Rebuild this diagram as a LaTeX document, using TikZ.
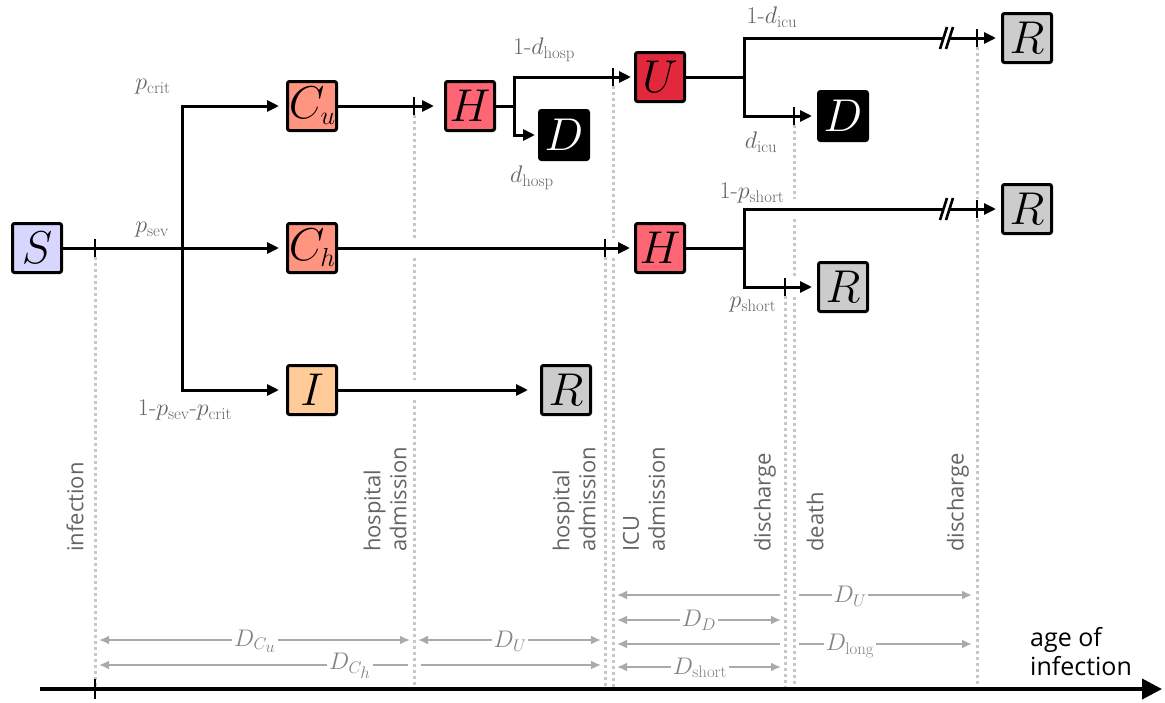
\RequirePackage{fix-cm}
\documentclass[tikz,border=0pt]{standalone}
\usepackage{fontspec}
\setsansfont{Open Sans}
\usetikzlibrary{arrows.meta,calc}
\definecolor{cS}{RGB}{214,214,255}
\definecolor{cC}{RGB}{255,148,128}
\definecolor{cI}{RGB}{255,204,153}
\definecolor{cH}{RGB}{255,102,117}
\definecolor{cU}{RGB}{226,40,60}
\definecolor{cR}{RGB}{204,204,204}
\definecolor{labgray}{RGB}{100,100,100}
\definecolor{dimgray}{RGB}{130,130,130}
\definecolor{dimline}{RGB}{170,170,170}
\definecolor{vgray}{RGB}{200,200,200}
\begin{document}
\begin{tikzpicture}[x=1pt,y=-1pt,
  box/.style={draw=black,line width=3pt,rounded corners=2pt,minimum size=49pt,inner sep=0pt,font=\fontsize{46}{46}\selectfont},
  flow/.style={line width=3pt,draw=black},
  arr/.style={flow,-{Triangle[length=12pt,width=11pt]},shorten >=#1},
  arr/.default=5pt,
  tickmark/.style={line width=2.8pt},
  lab/.style={text=labgray,font=\fontsize{24}{26}\selectfont,inner sep=0pt},
  vtxt/.style={text=labgray,font=\sffamily\fontsize{22}{26}\selectfont,rotate=90,anchor=west,align=left,inner sep=0pt},
  vline/.style={draw=vgray,line width=3pt,dash pattern=on 3pt off 3pt},
  dim/.style={draw=dimline,line width=2.4pt},
  dboth/.style={dim,{Latex[length=10pt,width=9pt]}-{Latex[length=10pt,width=9pt]}},
  dleft/.style={dim,{Latex[length=10pt,width=9pt]}-},
  dright/.style={dim,-{Latex[length=10pt,width=9pt]}},
  dlab/.style={text=dimgray,fill=white,inner sep=2pt,font=\fontsize{24}{26}\selectfont}
]
\useasboundingbox (0,0) rectangle (1165,702);

% dotted guide lines
\draw[vline] (95,257) -- (95,688);
\draw[vline] (414,115) -- (414,238);
\draw[vline] (414,258) -- (414,380);
\draw[vline] (414,400) -- (414,688);
\draw[vline] (605,257) -- (605,688);
\draw[vline] (613,86) -- (613,238);
\draw[vline] (613,258) -- (613,688);
\draw[vline] (785,296) -- (785,688);
\draw[vline] (794,125) -- (794,199);
\draw[vline] (794,219) -- (794,277);
\draw[vline] (794,297) -- (794,688);
\draw[vline] (977,47) -- (977,199);
\draw[vline] (977,219) -- (977,688);

% nodes
\node[box,fill=cS] (S) at (37,248) {\makebox[0pt]{$S$}};
\node[box,fill=cC] (Cu) at (312,106) {\makebox[0pt]{$C$\kern-4pt\raisebox{-6pt}{\fontsize{26}{26}\selectfont$u$}}};
\node[box,fill=cC] (Ch) at (312,248) {\makebox[0pt]{$C$\kern-4pt\raisebox{-6pt}{\fontsize{26}{26}\selectfont$h$}}};
\node[box,fill=cI] (I) at (312,390) {\makebox[0pt]{$I$}};
\node[box,fill=cR] (R4) at (566,390) {\makebox[0pt]{$R$}};
\node[box,fill=cH] (H1) at (470,106) {\makebox[0pt]{$H$}};
\node[box,fill=black,text=white] (D1) at (564,135) {\makebox[0pt]{$D$}};
\node[box,fill=cU] (U) at (660,77) {\makebox[0pt]{$U$}};
\node[box,fill=cR] (R1) at (1027,38) {\makebox[0pt]{$R$}};
\node[box,fill=black,text=white] (D2) at (843,116) {\makebox[0pt]{$D$}};
\node[box,fill=cH] (H2) at (660,248) {\makebox[0pt]{$H$}};
\node[box,fill=cR] (R2) at (1027,209) {\makebox[0pt]{$R$}};
\node[box,fill=cR] (R3) at (843,287) {\makebox[0pt]{$R$}};

% branch points
\coordinate (b1) at (182,248);
\coordinate (b2) at (514,106);
\coordinate (b3) at (744,77);
\coordinate (b4) at (744,248);

% connectors
\draw[arr=7pt] (S.east) -- (Ch.west);
\draw[arr=7pt] (b1) |- (Cu.west);
\draw[arr=7pt] (b1) |- (I.west);
\draw[arr=10pt] (Cu.east) -- (H1.west);
\draw[flow] (H1.east) -- (b2);
\draw[arr=3pt] (b2) |- (U.west);
\draw[arr=3pt] (b2) |- (D1.west);
\draw[arr=12pt] (I.east) -- (R4.west);
\draw[flow] (U.east) -- (b3);
\draw[arr=5pt] (b3) |- (R1.west);
\draw[arr=5pt] (b3) |- (D2.west);
\draw[arr=4pt] (Ch.east) -- (H2.west);
\draw[flow] (H2.east) -- (b4);
\draw[arr=5pt] (b4) |- (R2.west);
\draw[arr=5pt] (b4) |- (R3.west);

% ticks
\foreach \x/\y in {95/248,414/106,613/77,794/116,977/38,605/248,785/287,977/209}
  \draw[tickmark] (\x,\y-9) -- (\x,\y+9);

% break marks
\foreach \y in {38,209}{
  \fill[white] (940,\y+11) -- (947,\y-11) -- (953,\y-11) -- (946,\y+11) -- cycle;
  \draw[line width=2.6pt] (940,\y+11) -- (947,\y-11);
  \draw[line width=2.6pt] (946,\y+11) -- (953,\y-11);
}

% probability labels
\node[lab] (lpc) at (153,87) {$p_{\mathrm{crit}}$};
\node[lab] (lps) at (152,230) {$p_{\mathrm{sev}}$};
\node[lab] (lpr) at (185,410) {1-$p_{\mathrm{sev}}$-$p_{\mathrm{crit}}$};
\node[lab] (ldh1) at (544,50) {1-$d_{\mathrm{hosp}}$};
\node[lab] (ldh) at (532,178) {$d_{\mathrm{hosp}}$};
\node[lab] (ldi1) at (772,17) {1-$d_{\mathrm{icu}}$};
\node[lab] (ldi) at (761,142) {$d_{\mathrm{icu}}$};
\node[lab] (lps1) at (752,193) {1-$p_{\mathrm{short}}$};
\node[lab] (lpsh) at (753,305) {$p_{\mathrm{short}}$};

% event labels
\node[vtxt] (e1) at (75,552) {infection};
\node[vtxt] (e2) at (385,552) {hospital\\admission};
\node[vtxt] (e3) at (574,552) {hospital\\admission};
\node[vtxt] (e4) at (644,552) {ICU\\admission};
\node[vtxt] (e5) at (765,552) {discharge};
\node[vtxt] (e6) at (815,552) {death};
\node[vtxt] (e7) at (958,552) {discharge};

% duration arrows
\coordinate (p1) at (99,640); \coordinate (p2) at (410,640);
\draw[dboth] (p1) -- (p2);
\node[dlab] (dCu) at (255,641) {$D_{C_{\scriptstyle u}}$};
\coordinate (p3) at (418,640); \coordinate (p4) at (601,640);
\draw[dboth] (p3) -- (p4);
\node[dlab] (dU1) at (510,641) {$D_U$};
\coordinate (p5) at (99,665); \coordinate (p6) at (408,665);
\coordinate (p7) at (421,665); \coordinate (p8) at (601,665);
\draw[dleft] (p5) -- (p6);
\draw[dright] (p7) -- (p8);
\node[dlab] (dCh) at (350,666) {$D_{C_{\scriptstyle h}}$};
\coordinate (q1) at (617,595); \coordinate (q2) at (780,595);
\coordinate (q3) at (799,595); \coordinate (q4) at (972,595);
\draw[dleft] (q1) -- (q2);
\draw[dright] (q3) -- (q4);
\node[dlab] (dU2) at (850,596) {$D_U$};
\coordinate (q5) at (617,620); \coordinate (q6) at (781,620);
\draw[dboth] (q5) -- (q6);
\node[dlab] (dD) at (699,620) {$D_D$};
\coordinate (q7) at (617,644); \coordinate (q8) at (780,644);
\coordinate (q9) at (799,644); \coordinate (q10) at (972,644);
\draw[dleft] (q7) -- (q8);
\draw[dright] (q9) -- (q10);
\node[dlab] (dL) at (850,646) {$D_{\mathrm{long}}$};
\coordinate (q11) at (617,667); \coordinate (q12) at (781,667);
\draw[dboth] (q11) -- (q12);
\node[dlab] (dS) at (700,668) {$D_{\mathrm{short}}$};

% time axis
\coordinate (ax0) at (40,689); \coordinate (ax1) at (1162,689);
\draw[line width=3.8pt,-{Triangle[length=20pt,width=20pt]}] (ax0) -- (ax1);
\draw[line width=2.8pt] (95,679) -- (95,699);
\node[font=\sffamily\fontsize{25}{29}\selectfont,align=left,anchor=west,inner sep=0pt] (age) at (1030,652) {age of\\infection};
\end{tikzpicture}
\end{document}
